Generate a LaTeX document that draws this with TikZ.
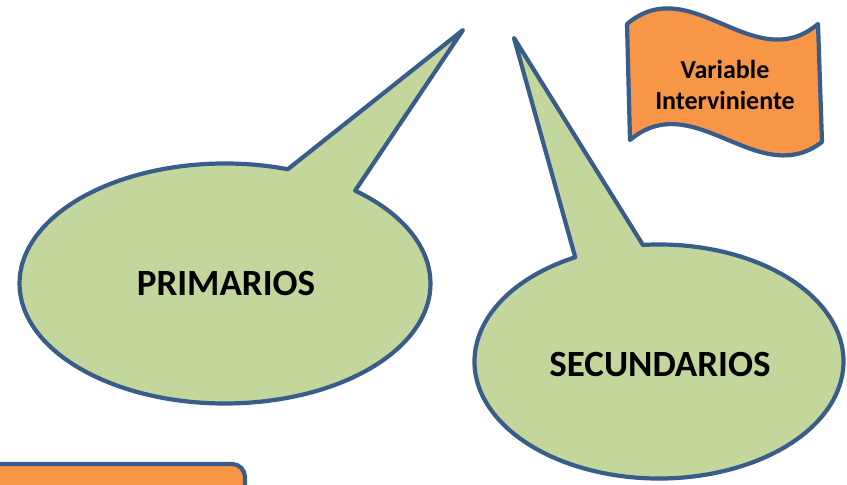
\documentclass[tikz,border=0pt]{standalone}
\usepackage{fontspec}
\setmainfont{Carlito}
\usetikzlibrary{calc}
\definecolor{edgeblue}{RGB}{56,93,138}
\definecolor{bubblegreen}{RGB}{195,214,155}
\definecolor{flagorange}{RGB}{247,150,70}
\tikzset{
  bubble/.style={draw=edgeblue, fill=bubblegreen, line width=4.2pt, line join=round},
  orangeshape/.style={draw=edgeblue, fill=flagorange, line width=4.2pt, line join=round},
  bigtext/.style={font=\fontsize{37}{44}\selectfont\bfseries, text=black, inner sep=0pt},
  flagtext/.style={font=\fontsize{26}{31}\selectfont\bfseries, text=black, align=center, inner sep=0pt}
}
\begin{document}
\begin{tikzpicture}[x=1pt,y=1pt]
\clip (0,0) rectangle (847,485);
\fill[white] (0,0) rectangle (847,485);
% left callout
\coordinate (lc) at (225,201.5);
\coordinate (ltip) at (463,455);
\draw[bubble] (ltip) -- ($(lc)+(50.7:205.5 and 120)$)
  arc[start angle=50.7, end angle=-287.8, x radius=205.5, y radius=120] -- cycle;
\node[bigtext] (prim) at (226,202) {PRIMARIOS};
% right callout
\coordinate (rc) at (659,123.5);
\coordinate (rtip) at (514,447);
\draw[bubble] (rtip) -- ($(rc)+(117:184.5 and 117)$)
  arc[start angle=117, end angle=455, x radius=184.5, y radius=117] -- cycle;
\node[bigtext] (sec) at (660,120) {SECUNDARIOS};
% flag
\coordinate (f1) at (627,461);
\coordinate (f2) at (818,461);
\coordinate (f3) at (822,343);
\coordinate (f4) at (630,345);
\draw[orangeshape] (f1) .. controls (691,515) and (754,407) .. (f2) -- (f3)
  .. controls (758,294) and (694,399) .. (f4) -- cycle;
\node[flagtext] (var) at (725,400) {Variable\\Interviniente};
% bottom-left box
\draw[orangeshape, rounded corners=13pt] (-20,-20) rectangle (245,21);
\end{tikzpicture}
\end{document}
